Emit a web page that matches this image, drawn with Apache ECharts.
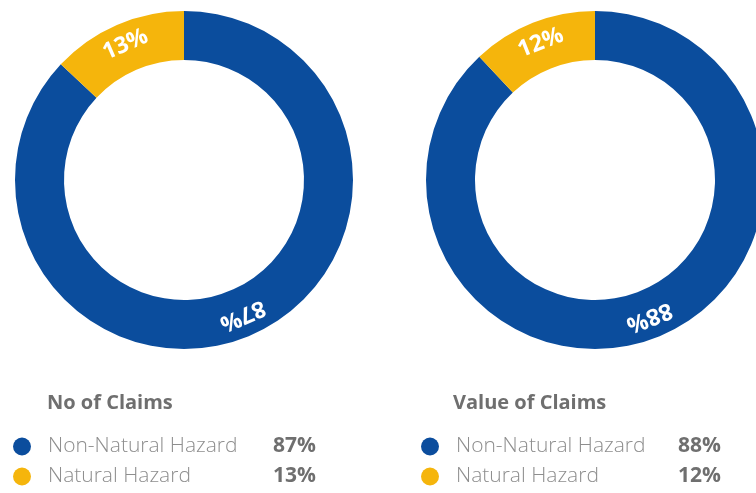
<!DOCTYPE html>
<html>
<head>
    <meta charset="utf-8">
    <title>Claims by Hazard Type</title>
    <script src="https://cdn.jsdelivr.net/npm/echarts@6/dist/echarts.min.js"></script>
    <style>
        html, body { margin: 0; padding: 0; background: #fff; }
    </style>
</head>
<body>
    <div id="main" style="width: 756px; height: 493px;"></div>
    <script>
        var categories = ['Non-Natural Hazard', 'Natural Hazard'];
        var noOfClaims = [87, 13];
        var valueOfClaims = [88, 12];
        var chartTitles = ['No of Claims', 'Value of Claims'];
        var colors = ['#0b4d9d', '#f5b50c'];

        var myChart = echarts.init(document.getElementById('main'));
        var font = '"Open Sans", "Noto Sans", sans-serif';

        // each label follows the ring clockwise, so the bottom one ends up upside down
        function buildData(values) {
            var total = values.reduce(function (a, b) { return a + b; }, 0);
            var acc = 0;
            return categories.map(function (name, i) {
                var mid = 90 - (acc + values[i] / 2) / total * 360;
                acc += values[i];
                return { name: name, value: values[i], label: { rotate: mid - 90 } };
            });
        }

        function pieSeries(values, cx) {
            return {
                type: 'pie',
                center: [cx, 180],
                radius: [120, 169],
                startAngle: 90,
                clockwise: true,
                silent: true,
                label: {
                    show: true,
                    position: 'inside',
                    color: '#fff',
                    fontFamily: font,
                    fontWeight: 'bold',
                    fontSize: 23,
                    formatter: function (p) { return p.value + '%'; }
                },
                labelLine: { show: false },
                data: buildData(values)
            };
        }

        function legendFor(values, left, nameWidth) {
            return {
                orient: 'vertical',
                left: left,
                top: 436,
                padding: 0,
                icon: 'circle',
                itemWidth: 18,
                itemHeight: 18,
                itemGap: 9,
                selectedMode: false,
                data: categories,
                formatter: function (name) {
                    var i = categories.indexOf(name);
                    return '{n|' + name + '}{v|' + values[i] + '%}';
                },
                textStyle: {
                    rich: {
                        n: {
                            fontFamily: font,
                            fontSize: 21,
                            fontWeight: 300,
                            color: '#8e8e8e',
                            lineHeight: 22,
                            padding: [0, 0, 0, 12],
                            width: nameWidth
                        },
                        v: {
                            fontFamily: font,
                            fontSize: 21,
                            fontWeight: 'bold',
                            color: '#6f6f6f',
                            lineHeight: 22
                        }
                    }
                }
            };
        }

        var option = {
            color: colors,
            animation: false,
            title: [
                {
                    text: chartTitles[0], left: 42, top: 388,
                    textStyle: { fontFamily: font, fontSize: 20, fontWeight: 'bold', color: '#6f6f6f' }
                },
                {
                    text: chartTitles[1], left: 448, top: 388,
                    textStyle: { fontFamily: font, fontSize: 20, fontWeight: 'bold', color: '#6f6f6f' }
                }
            ],
            legend: [
                legendFor(noOfClaims, 13, 225),
                legendFor(valueOfClaims, 421, 222)
            ],
            series: [
                pieSeries(noOfClaims, 184),
                pieSeries(valueOfClaims, 595)
            ]
        };

        myChart.setOption(option);
    </script>
</body>
</html>
